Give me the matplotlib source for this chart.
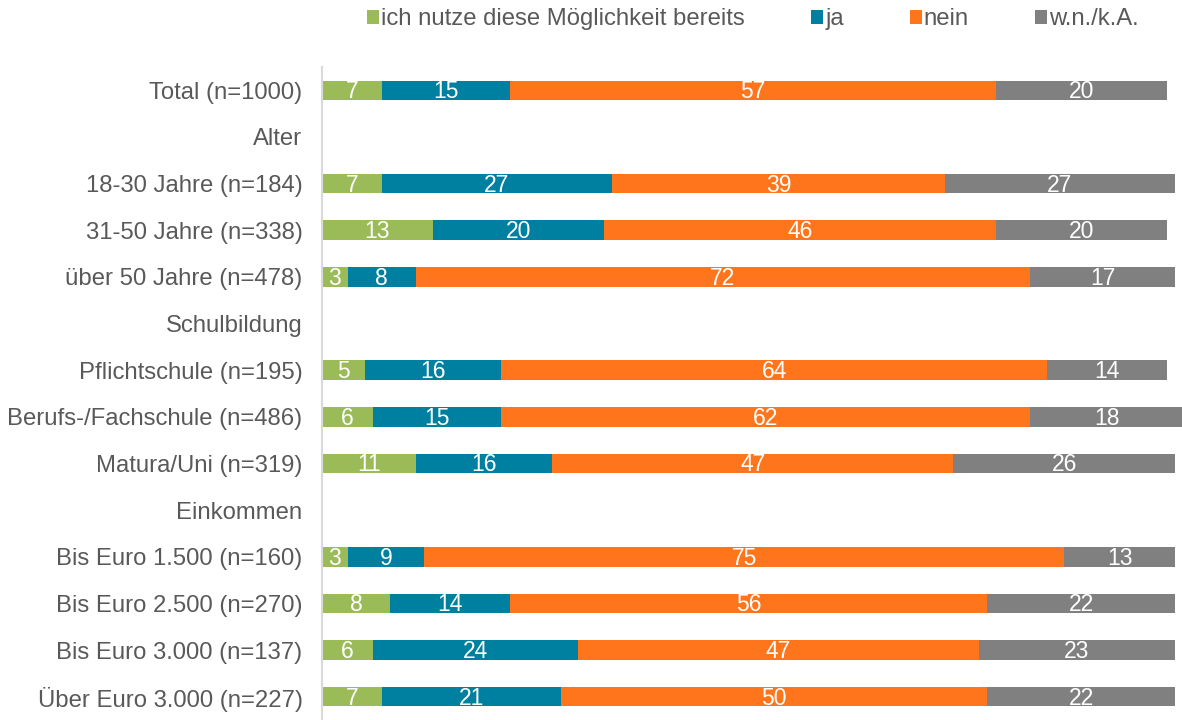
import matplotlib
matplotlib.use("Agg")
import matplotlib.pyplot as plt
import numpy as np

# rows from top to bottom; group headers carry no bars (None)
rows = [
    "Total (n=1000)",
    "Alter",
    "18-30 Jahre (n=184)",
    "31-50 Jahre (n=338)",
    "über 50 Jahre (n=478)",
    "Schulbildung",
    "Pflichtschule (n=195)",
    "Berufs-/Fachschule (n=486)",
    "Matura/Uni (n=319)",
    "Einkommen",
    "Bis Euro 1.500 (n=160)",
    "Bis Euro 2.500 (n=270)",
    "Bis Euro 3.000 (n=137)",
    "Über Euro 3.000 (n=227)",
]

bereits = [7, None, 7, 13, 3, None, 5, 6, 11, None, 3, 8, 6, 7]
ja = [15, None, 27, 20, 8, None, 16, 15, 16, None, 9, 14, 24, 21]
nein = [57, None, 39, 46, 72, None, 64, 62, 47, None, 75, 56, 47, 50]
wnka = [20, None, 27, 20, 17, None, 14, 18, 26, None, 13, 22, 23, 22]

series = [bereits, ja, nein, wnka]
names = ["ich nutze diese Möglichkeit bereits", "ja", "nein", "w.n./k.A."]
colors = ["#9BBB59", "#0080A0", "#FF751C", "#808080"]

plt.rcParams["font.family"] = ["Liberation Sans", "DejaVu Sans"]
txt = "#595959"

fig = plt.figure(figsize=(11.82, 7.2), dpi=100)
ax = fig.add_axes([322 / 1182, 0.0, 1 - 322 / 1182, 1 - 67 / 720])

y = np.arange(len(rows))
left = np.zeros(len(rows))
for vals, name, col in zip(series, names, colors):
    v = np.array([np.nan if x is None else x for x in vals], dtype=float)
    w = np.nan_to_num(v)
    bars = ax.barh(y, w, left=left, height=0.42, color=col, label=name,
                   linewidth=0)
    for i, b in enumerate(bars):
        if not np.isnan(v[i]):
            ax.text(left[i] + w[i] / 2, y[i] + 0.03, f"{int(v[i])}",
                    ha="center", va="center", color="white", fontsize=16.5)
    left += w

ax.set_xlim(0, 100.8)
ax.set_ylim(len(rows) - 0.5, -0.5)
ax.set_yticks(y)
ax.set_yticklabels(rows, fontsize=17.2, color=txt)
ax.tick_params(axis="y", length=0, pad=14)
ax.set_xticks([])
for s in ["top", "right", "bottom"]:
    ax.spines[s].set_visible(False)
ax.spines["left"].set_color("#D9D9D9")
ax.spines["left"].set_linewidth(1.5)

fig.legend(loc="center", bbox_to_anchor=(0.637, 0.973), ncol=4,
           frameon=False, fontsize=17.2, handlelength=0.5, handleheight=0.55,
           handletextpad=0.1, columnspacing=2.75, labelcolor=txt,
           borderpad=0.0)

fig.savefig("out.png", dpi=100)
